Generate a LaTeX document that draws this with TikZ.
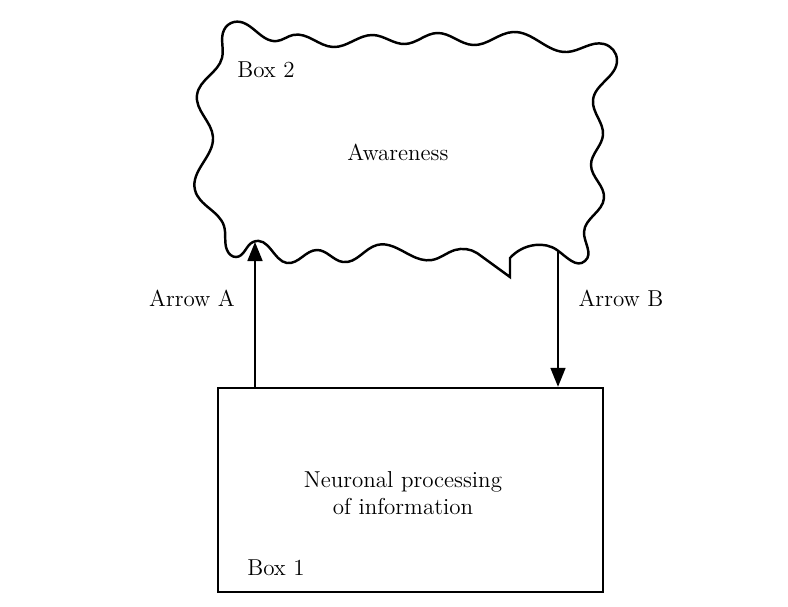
\documentclass[tikz,border=0pt]{standalone}
\usepackage{tikz}
\usetikzlibrary{arrows.meta, positioning, calc, hobby}

\begin{document}
\begin{tikzpicture}[
    x=0.02cm, y=-0.02cm,
    procbox/.style={draw, line width=1.4pt, minimum width=7.7cm, minimum height=4.08cm, inner sep=0pt},
    lbl/.style={font=\fontsize{13.1}{15.4}\selectfont, inner sep=0pt, align=center},
    link/.style={line width=1pt, -{Triangle[width=0.3cm, length=0.38cm]}}
]
    \useasboundingbox (0,0) rectangle (788,606);

    % Box 1
    \node[procbox] (box1) at (410.5,490) {};
    \node[lbl] (neuro) at (403,493) {Neuronal processing\\of information};
    \node[lbl, anchor=west] (box1lbl) at (247,568) {Box 1};

    % Box 2, wavy outline
    \draw[line width=1.4pt, use Hobby shortcut] (510,277) -- (477,253)
        .. (455,250) .. (432,260) .. (410,255) .. (377,245) .. (343,262)
        .. (317,250) .. (287,263) .. (253,242) .. (236,257) .. (227,250)
        .. (224,226) .. (195,190) .. (213,137) .. (197,95) .. (222,58)
        .. (224,30) .. (234,22) .. (277,41) .. (293,35) .. (333,47)
        .. (373,35) .. (405,44) .. (437,33) .. (473,45) .. (513,32)
        .. (567,52) .. (604,44) .. (617,60) .. (593,100) .. (603,135)
        .. (591,165) .. (604,198) .. (584,232) .. (585,261) .. (557,250)
        .. (535,245) .. (510,258) -- cycle;
    \node[lbl] (aware) at (398,152) {Awareness};
    \node[lbl, anchor=west] (box2lbl) at (237,70) {Box 2};

    \coordinate (tipA) at (255,242);
    \coordinate (startB) at (558,251);

    \draw[link] (box1.north -| tipA) -- (tipA);
    \draw[link] (startB) -- (box1.north -| startB);

    \node[lbl] (labA) at (192,298) {Arrow A};
    \node[lbl] (labB) at (621,298) {Arrow B};
\end{tikzpicture}
\end{document}
